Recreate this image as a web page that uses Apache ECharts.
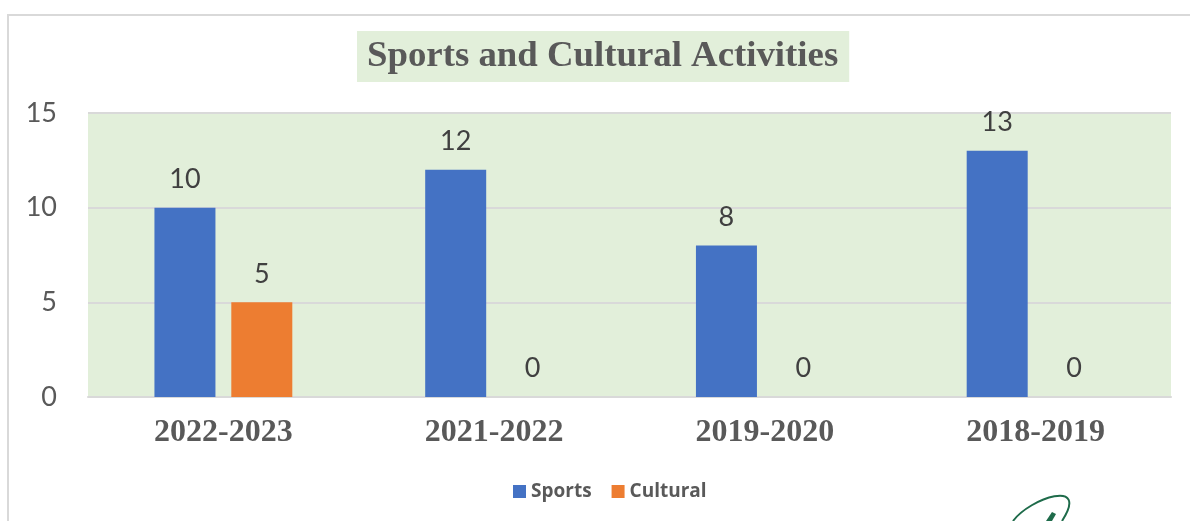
<!DOCTYPE html>
<html><head><meta charset="utf-8">
<script src="https://cdn.jsdelivr.net/npm/echarts@6/dist/echarts.min.js"></script>
<style>html,body{margin:0;padding:0;background:#fff}#c{width:1190px;height:521px}</style>
</head><body><div id="c"></div>
<script>
const categories = ['2022-2023', '2021-2022', '2019-2020', '2018-2019'];
const sports = [10, 12, 8, 13];
const cultural = [5, 0, 0, 0];
const yTicks = [0, 5, 10, 15];

const chart = echarts.init(document.getElementById('c'));
const labelStyle = {show: true, position: 'top', distance: 15, fontFamily: 'Lato, Calibri, sans-serif', fontSize: 27, color: '#404040'};
chart.setOption({
  animation: false,
  title: {
    text: 'Sports and Cultural Activities',
    left: 357, top: 31,
    padding: [7, 11, 7, 10],
    backgroundColor: '#e2efda',
    textStyle: {fontFamily: '"Liberation Serif", "Times New Roman", serif', fontWeight: 'bold', fontSize: 36.8, color: '#595959'}
  },
  legend: {
    data: ['Sports', 'Cultural'],
    left: 508, top: 477,
    itemWidth: 13, itemHeight: 13, itemGap: 20,
    icon: 'rect',
    textStyle: {fontFamily: '"Open Sans", sans-serif', fontWeight: 'bold', fontSize: 19, color: '#595959'}
  },
  grid: {left: 88, right: 19, top: 113, bottom: 124, backgroundColor: '#e2efda', show: true, borderWidth: 0},
  xAxis: {
    type: 'category', data: categories,
    axisLine: {lineStyle: {color: '#d9d9d9', width: 2}},
    axisTick: {show: false},
    axisLabel: {margin: 20, fontFamily: '"Liberation Serif", "Times New Roman", serif', fontWeight: 'bold', fontSize: 32, color: '#595959'}
  },
  yAxis: {
    type: 'value', min: yTicks[0], max: yTicks[yTicks.length - 1], interval: 5,
    axisLine: {show: false}, axisTick: {show: false},
    splitLine: {lineStyle: {color: '#d9d9d9', width: 2}},
    axisLabel: {margin: 31, fontFamily: 'Lato, Calibri, sans-serif', fontSize: 27, color: '#595959'}
  },
  series: [
    {name: 'Sports', type: 'bar', data: sports, barWidth: 61, barGap: '26%', itemStyle: {color: '#4472c4'}, label: labelStyle},
    {name: 'Cultural', type: 'bar', data: cultural, barWidth: 61, itemStyle: {color: '#ed7d31'}, label: labelStyle}
  ],
  graphic: [
    {type: 'rect', shape: {x: 8, y: 15, width: 1300, height: 700}, style: {fill: 'none', stroke: '#d9d9d9', lineWidth: 2}, silent: true},
    {type: 'bezierCurve', shape: {x1: 1013, y1: 521, cpx1: 1030, cpy1: 498, cpx2: 1090, cpy2: 478, x2: 1062, y2: 521}, style: {fill: 'none', stroke: '#1e6b4a', lineWidth: 2}, silent: true},
    {type: 'polygon', shape: {points: [[1046, 521], [1052, 512], [1056, 514], [1052, 521]]}, style: {fill: '#1e6b4a'}, silent: true}
  ]
});
</script></body></html>
